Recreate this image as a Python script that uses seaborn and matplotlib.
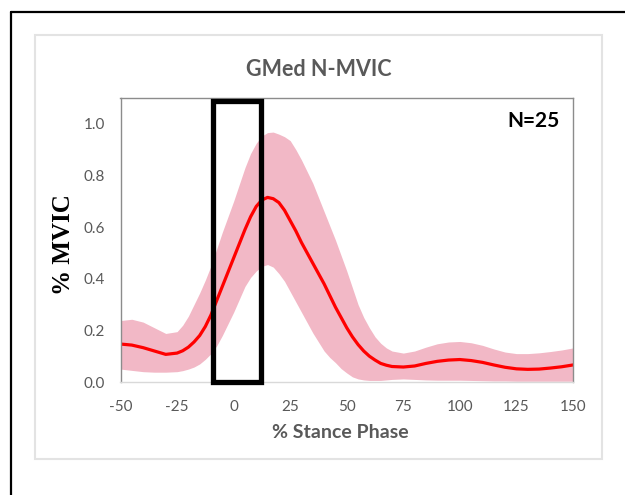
import matplotlib
matplotlib.use("Agg")
import matplotlib.pyplot as plt
from matplotlib.lines import Line2D
from matplotlib.patches import Rectangle
import pandas as pd
import seaborn as sns

# % stance phase sample points (denser through the activation burst)
stance = [-50, -45, -40, -35, -30, -25, -22.5, -20, -17.5, -15, -12.5, -10,
          -7.5, -5, -2.5, 0, 2.5, 5, 7.5, 10, 12.5, 15, 17.5, 20, 22.5, 25,
          27.5, 30, 32.5, 35, 37.5, 40, 42.5, 45, 47.5, 50, 52.5, 55, 57.5,
          60, 62.5, 65, 67.5, 70, 75, 80, 85, 90, 95, 100, 105, 110, 115,
          120, 125, 130, 135, 140, 145, 150]

# ensemble mean activation (fraction of MVIC)
mean_mvic = [0.147, 0.143, 0.133, 0.120, 0.107, 0.112, 0.121, 0.135, 0.155,
             0.180, 0.215, 0.260, 0.315, 0.370, 0.425, 0.480, 0.535, 0.590,
             0.640, 0.680, 0.705, 0.715, 0.710, 0.695, 0.665, 0.625, 0.585,
             0.540, 0.500, 0.460, 0.420, 0.380, 0.335, 0.290, 0.250, 0.210,
             0.175, 0.145, 0.120, 0.100, 0.085, 0.072, 0.065, 0.060, 0.058,
             0.062, 0.072, 0.080, 0.085, 0.087, 0.083, 0.076, 0.066, 0.057,
             0.051, 0.049, 0.050, 0.054, 0.059, 0.066]

# upper and lower edges of the variability band
upper_mvic = [0.238, 0.243, 0.232, 0.210, 0.188, 0.195, 0.220, 0.255, 0.300,
              0.345, 0.395, 0.450, 0.515, 0.580, 0.640, 0.700, 0.765, 0.830,
              0.885, 0.925, 0.953, 0.966, 0.968, 0.960, 0.950, 0.935, 0.900,
              0.860, 0.815, 0.770, 0.715, 0.660, 0.605, 0.550, 0.490, 0.430,
              0.365, 0.300, 0.250, 0.210, 0.175, 0.150, 0.132, 0.120, 0.112,
              0.120, 0.135, 0.148, 0.155, 0.157, 0.152, 0.142, 0.128, 0.116,
              0.110, 0.110, 0.113, 0.118, 0.124, 0.132]
lower_mvic = [0.050, 0.045, 0.040, 0.038, 0.038, 0.040, 0.044, 0.050, 0.058,
              0.070, 0.088, 0.110, 0.140, 0.180, 0.225, 0.270, 0.320, 0.370,
              0.405, 0.430, 0.448, 0.455, 0.445, 0.420, 0.390, 0.350, 0.310,
              0.270, 0.230, 0.190, 0.155, 0.120, 0.095, 0.075, 0.052, 0.035,
              0.020, 0.012, 0.008, 0.006, 0.006, 0.006, 0.008, 0.010, 0.012,
              0.010, 0.008, 0.007, 0.007, 0.007, 0.006, 0.005, 0.004, 0.004,
              0.003, 0.003, 0.003, 0.003, 0.003, 0.003]

x_ticks = [-50, -25, 0, 25, 50, 75, 100, 125, 150]
y_ticks = [0.0, 0.2, 0.4, 0.6, 0.8, 1.0]

# highlighted window around heel strike
window_start, window_end, window_top = -9, 12, 1.09

df = pd.DataFrame({"stance": stance, "mean": mean_mvic,
                   "upper": upper_mvic, "lower": lower_mvic})

sns.set_theme(style="white")
plt.rcParams["font.family"] = ["Lato", "DejaVu Sans"]

W, H = 625, 495
fig = plt.figure(figsize=(W / 100, H / 100), dpi=100)
fig.patch.set_facecolor("white")

# outer frame (top and left edges)
fig.add_artist(Line2D([11 / W, 11 / W], [0, 1 - 12 / H], color="black", lw=1.6))
fig.add_artist(Line2D([11 / W, 1], [1 - 12 / H, 1 - 12 / H], color="black", lw=1.6))

# light chart-area box
fig.add_artist(Rectangle((35 / W, 1 - 459 / H), (602 - 35) / W, (459 - 35) / H,
                         transform=fig.transFigure, facecolor="white",
                         edgecolor="#e3e3e3", lw=1.5, zorder=0))

ax_l, ax_r, ax_t, ax_b = 120.5, 573, 98, 382
ax = fig.add_axes([ax_l / W, 1 - ax_b / H, (ax_r - ax_l) / W, (ax_b - ax_t) / H])
ax.set_facecolor("white")

ax.fill_between(df["stance"], df["lower"], df["upper"], color="#F2B8C6",
                lw=0, zorder=1)
sns.lineplot(data=df, x="stance", y="mean", ax=ax, color="#FF0000", lw=2.3,
             zorder=2, solid_joinstyle="round", solid_capstyle="round")

ax.add_patch(Rectangle((window_start, 0), window_end - window_start, window_top,
                       fill=False, edgecolor="black", lw=3.8, zorder=5,
                       clip_on=False))

ax.set_xlim(-50, 150)
ax.set_ylim(0, 1.1)
ax.set_xticks(x_ticks)
ax.set_xticklabels([str(v) for v in x_ticks])
ax.set_yticks(y_ticks)
ax.set_yticklabels([f"{v:.1f}" for v in y_ticks])
ax.tick_params(axis="both", length=0, labelsize=11, labelcolor="#595959")
ax.tick_params(axis="y", pad=11)
ax.tick_params(axis="x", pad=13)

for side in ["top", "right", "left"]:
    ax.spines[side].set_color("#8c8c8c")
    ax.spines[side].set_linewidth(1.0)
ax.spines["bottom"].set_color("#d9d9d9")
ax.spines["bottom"].set_linewidth(1.0)

ax.set_xlabel("")
ax.set_ylabel("")

fig.text(318.5 / W, 1 - 70 / H, "GMed N-MVIC", ha="center", va="center",
         fontsize=15.5, fontweight="bold", color="#595959")
fig.text(340 / W, 1 - 432 / H, "% Stance Phase", ha="center", va="center",
         fontsize=14, fontweight="bold", color="#595959")
fig.text(64 / W, 1 - 245 / H, "% MVIC", ha="center", va="center", rotation=90,
         fontsize=18, fontweight="bold", color="black",
         family=["Liberation Serif", "DejaVu Serif"])
ax.text(0.97, 0.918, "N=25", transform=ax.transAxes, ha="right", va="center",
        fontsize=15, fontweight="bold", color="black")

fig.savefig("out.png", dpi=100, facecolor="white")
